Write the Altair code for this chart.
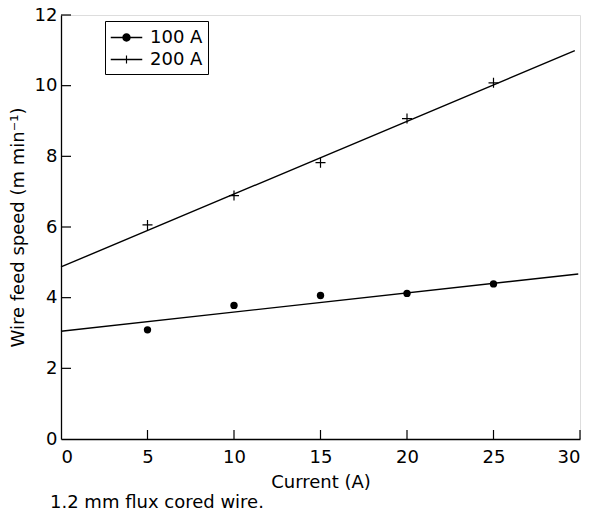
import altair as alt
import pandas as pd

# ---- data ----
current = [5, 10, 15, 20, 25]
speed_100 = [3.09, 3.78, 4.06, 4.12, 4.39]
speed_200 = [6.06, 6.89, 7.82, 9.07, 10.08]

fit_100_x = [0, 29.9]
fit_100_y = [3.05, 4.67]
fit_200_x = [0, 29.7]
fit_200_y = [4.87, 10.99]

series = ["100 A", "200 A"]
x_ticks = [5, 10, 15, 20, 25, 30]
y_ticks = [2, 4, 6, 8, 10, 12]

FONT = "DejaVu Sans"
FS = 18
W, H = 519, 424

pts100 = pd.DataFrame({"x": current, "y": speed_100})
pts200 = pd.DataFrame({"x": current, "y": speed_200})
fits = pd.DataFrame({
    "x": fit_100_x + fit_200_x,
    "y": fit_100_y + fit_200_y,
    "s": [series[0]] * 2 + [series[1]] * 2,
})
legend_df = pd.DataFrame({"x": [0, 0], "y": [0, 0], "s": series})
xt = pd.DataFrame({"v": x_ticks})
yt = pd.DataFrame({"v": y_ticks})

xscale = alt.Scale(domain=[0, 30], nice=False, zero=False)
yscale = alt.Scale(domain=[0, 12], nice=False, zero=False)

xaxis = alt.Axis(values=[0, 5, 10, 15, 20, 25, 30], tickSize=0, grid=False,
                 domainColor="black", domainWidth=1.3, labelFont=FONT,
                 labelFontSize=FS, labelColor="black", labelPadding=9,
                 title="Current (A)", titleFont=FONT, titleFontSize=FS,
                 titleFontWeight="normal", titleColor="black", titlePadding=7)
yaxis = alt.Axis(values=[0, 2, 4, 6, 8, 10, 12], tickSize=0, grid=False,
                 domainColor="black", domainWidth=1.3, labelFont=FONT,
                 labelFontSize=FS, labelColor="black", labelPadding=4,
                 title="Wire feed speed (m min\u207b\u00b9)", titleFont=FONT,
                 titleFontSize=FS, titleFontWeight="normal", titleColor="black",
                 titlePadding=7)

lines = alt.Chart(fits).mark_line(color="black", strokeWidth=1.4).encode(
    x=alt.X("x:Q", scale=xscale, axis=xaxis),
    y=alt.Y("y:Q", scale=yscale, axis=yaxis),
    detail="s:N",
)

dots = alt.Chart(pts100).mark_point(shape="circle", filled=True, size=54,
                                    color="black", opacity=1).encode(
    x=alt.X("x:Q", scale=xscale), y=alt.Y("y:Q", scale=yscale))

plus = alt.Chart(pts200).mark_point(shape="M-1,0L1,0M0,-1L0,1", filled=False,
                                    size=100, color="black", strokeWidth=1.2,
                                    opacity=1).encode(
    x=alt.X("x:Q", scale=xscale), y=alt.Y("y:Q", scale=yscale))

# legend glyphs as filled outlines: a thin bar with a dot, and a thin bar with a tick
bar = "M-1.5,-0.065L1.5,-0.065L1.5,0.065L-1.5,0.065Z"
leg_shapes = [
    bar + "M-0.4,0A0.4,0.4,0,1,1,0.4,0A0.4,0.4,0,1,1,-0.4,0Z",
    bar + "M-0.055,-0.38L0.055,-0.38L0.055,0.38L-0.055,0.38Z",
]
legend_layer = alt.Chart(legend_df).mark_point(
    filled=True, color="black", opacity=0
).encode(
    x=alt.X("x:Q", scale=xscale), y=alt.Y("y:Q", scale=yscale),
    shape=alt.Shape("s:N", scale=alt.Scale(domain=series, range=leg_shapes),
                    legend=alt.Legend(
                        orient="none", legendX=44, legendY=6, title=None,
                        strokeColor="black", fillColor="white", padding=5,
                        symbolSize=441, symbolOpacity=1,
                        symbolFillColor="black",
                        symbolOffset=5, labelOffset=12, rowPadding=1,
                        labelExpr="datum.label + '\u00a0\u00a0'",
                        labelFont=FONT, labelFontSize=FS, labelColor="black")),
)

xtick = alt.Chart(xt).mark_rule(color="black", strokeWidth=1.2).encode(
    x=alt.X("v:Q", scale=xscale), y=alt.value(H), y2=alt.value(H - 9))
ytick = alt.Chart(yt).mark_rule(color="black", strokeWidth=1.2).encode(
    y=alt.Y("v:Q", scale=yscale), x=alt.value(0), x2=alt.value(10))

chart = alt.layer(lines, dots, plus, xtick, ytick, legend_layer).properties(
    width=W, height=H,
    title=alt.TitleParams("1.2 mm flux cored wire.", orient="bottom",
                          anchor="start", frame="group", dx=-11, offset=3,
                          font=FONT, fontSize=FS, fontWeight="normal",
                          color="black"),
    autosize=alt.AutoSizeParams(type="none"),
    padding={"left": 53, "top": 7, "right": 4, "bottom": 72},
).configure_view(stroke=None).configure(background="white")

chart.save("out.html", embed_options={"renderer": "svg", "actions": False})
